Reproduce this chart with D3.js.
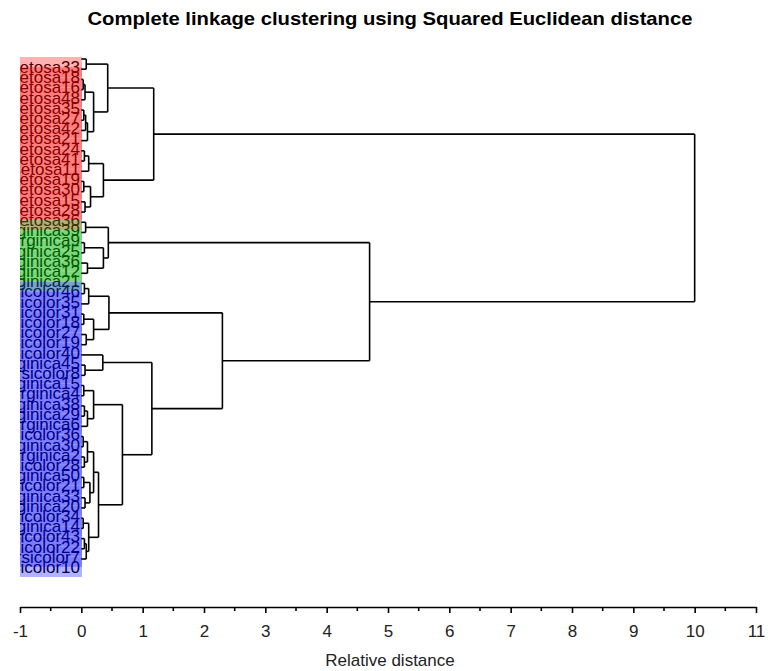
<!DOCTYPE html>
<html>
<head>
<meta charset="utf-8">
<script src="https://cdn.jsdelivr.net/npm/d3@7"></script>
<style>
  body { margin: 0; background: #fff; }
  svg { display: block; }
</style>
</head>
<body>
<svg id="chart" width="768" height="671"></svg>
<script>
// Leaves, top to bottom, as they sit in the dendrogram.
const leafNames = [
  'setosa33', 'setosa18', 'setosa16', 'setosa48', 'setosa35', 'setosa27', 'setosa42', 'setosa21',
  'setosa24', 'setosa41', 'setosa11', 'setosa19', 'setosa30', 'setosa15', 'setosa28', 'setosa36',
  'virginica39', 'virginica9', 'virginica25', 'virginica36', 'virginica12', 'virginica21',
  'versicolor46', 'versicolor35', 'versicolor31', 'versicolor18', 'versicolor27', 'versicolor19',
  'versicolor40', 'virginica45', 'versicolor8', 'virginica15', 'virginica4', 'virginica38',
  'virginica29', 'virginica6', 'versicolor36', 'virginica30', 'virginica2', 'versicolor28',
  'virginica50', 'versicolor21', 'virginica33', 'virginica20', 'versicolor34', 'virginica14',
  'versicolor43', 'versicolor22', 'versicolor7', 'versicolor10'
];

// Cluster each leaf was put in (colour of its label box).
const leafCluster = [
  0, 0, 0, 0, 0, 0, 0, 0, 0, 0, 0, 0, 0, 0, 0, 0,
  1, 1, 1, 1, 1, 1,
  2, 2, 2, 2, 2, 2, 2, 2, 2, 2, 2, 2, 2, 2, 2, 2, 2, 2, 2, 2, 2, 2, 2, 2, 2, 2, 2, 2
];
const clusterColors = ['#ff0000', '#00b000', '#0000ff'];

// Linkage: merge k joins mergeLeft[k] and mergeRight[k] at mergeHeight[k].
// Numbers are leaf indices, 'mN' is the result of merge N.
const mergeLeft = [
  0, 2, 'm1', 5, 'm3', 'm4', 'm2', 'm0', 9, 'm8',
  12, 14, 'm10', 'm9', 'm7', 16, 18, 20, 'm16', 'm15',
  22, 'm20', 25, 27, 'm22', 'm21', 30, 29, 32, 34,
  'm29', 'm28', 37, 39, 'm32', 41, 43, 'm35', 'm34', 45,
  47, 'm40', 'm39', 'm38', 'm31', 'm27', 'm25', 'm19', 'm14'
];
const mergeRight = [
  1, 3, 4, 6, 7, 8, 'm5', 'm6', 10, 11,
  13, 15, 'm11', 'm12', 'm13', 17, 19, 21, 'm17', 'm18',
  23, 24, 26, 28, 'm23', 'm24', 31, 'm26', 33, 35,
  36, 'm30', 38, 40, 'm33', 42, 44, 'm36', 'm37', 46,
  48, 49, 'm41', 'm42', 'm43', 'm44', 'm45', 'm46', 'm47'
];
const mergeHeight = [
  0.08, 0.03, 0.06, 0.04, 0.07, 0.10, 0.20, 0.43, 0.05, 0.12,
  0.04, 0.06, 0.15, 0.36, 1.18, 0.07, 0.05, 0.10, 0.36, 0.44,
  0.05, 0.12, 0.04, 0.08, 0.20, 0.45, 0.06, 0.35, 0.04, 0.05,
  0.10, 0.20, 0.03, 0.05, 0.10, 0.04, 0.06, 0.14, 0.20, 0.03,
  0.05, 0.08, 0.12, 0.28, 0.67, 1.15, 2.30, 4.70, 10.0
];

const xTicks = d3.range(-1, 12);
const xMinorTicks = d3.range(-0.5, 11, 1);

const svg = d3.select('#chart');

const x = d3.scaleLinear().domain([-1, 11]).range([20, 756]);
const y = d3.scalePoint().domain(d3.range(leafNames.length)).range([59, 559]);

// Resolve every node to a position (height, vertical centre).
const nodes = {};
leafNames.forEach((name, i) => { nodes[i] = { h: 0, y: y(i) }; });
mergeHeight.forEach((h, k) => {
  const a = nodes[mergeLeft[k]], b = nodes[mergeRight[k]];
  nodes['m' + k] = { h: h, y: (a.y + b.y) / 2, a: a, b: b };
});

// Title
svg.append('text')
  .attr('x', 390)
  .attr('y', 25)
  .attr('text-anchor', 'middle')
  .attr('textLength', 605)
  .attr('lengthAdjust', 'spacingAndGlyphs')
  .style('font-family', '"Liberation Sans Narrow", "Liberation Sans", Arial, sans-serif')
  .style('font-weight', 'bold')
  .style('font-size', '19px')
  .text('Complete linkage clustering using Squared Euclidean distance');

// Leaf labels, clipped to the label box
svg.append('clipPath').attr('id', 'labelClip')
  .append('rect')
  .attr('x', 20).attr('y', 40).attr('width', 62).attr('height', 560);

const labels = svg.append('g').attr('clip-path', 'url(#labelClip)');

labels.selectAll('text')
  .data(leafNames)
  .enter()
  .append('text')
  .attr('x', 80)
  .attr('y', (d, i) => y(i) + 8)
  .attr('dy', '0.35em')
  .attr('text-anchor', 'end')
  .style('font-family', '"Liberation Sans", Arial, sans-serif')
  .style('font-size', '17px')
  .attr('fill', '#000')
  .text(d => d);

// Translucent cluster boxes laid over the labels
labels.selectAll('rect.box')
  .data(leafNames)
  .enter()
  .append('rect')
  .attr('class', 'box')
  .attr('x', 20)
  .attr('y', (d, i) => y(i) + 8 - 10)
  .attr('width', 62)
  .attr('height', 20)
  .attr('fill', (d, i) => clusterColors[leafCluster[i]])
  .attr('fill-opacity', 0.3);

// Dendrogram elbows
const links = svg.append('g')
  .attr('fill', 'none')
  .attr('stroke', '#000')
  .attr('stroke-width', 1.6);

mergeHeight.forEach((h, k) => {
  const n = nodes['m' + k];
  const xn = x(n.h);
  [n.a, n.b].forEach(c => {
    links.append('line')
      .attr('x1', x(c.h)).attr('x2', xn)
      .attr('y1', c.y).attr('y2', c.y);
  });
  links.append('line')
    .attr('x1', xn).attr('x2', xn)
    .attr('y1', n.a.y).attr('y2', n.b.y);
});

// Axis
const axisY = 607;
const axis = svg.append('g')
  .attr('transform', `translate(0,${axisY})`)
  .call(d3.axisBottom(x).tickValues(xTicks).tickFormat(d => String(d)).tickSize(6).tickSizeOuter(0).tickPadding(12));

axis.select('.domain').attr('stroke-width', 1.6);
axis.selectAll('.tick line').attr('stroke-width', 1.6);
axis.selectAll('.tick text')
  .style('font-family', '"Liberation Sans", Arial, sans-serif')
  .style('font-size', '17px')
  .attr('fill', '#222');

axis.selectAll('line.minor')
  .data(xMinorTicks)
  .enter()
  .append('line')
  .attr('class', 'minor')
  .attr('x1', d => x(d)).attr('x2', d => x(d))
  .attr('y1', 0).attr('y2', 4)
  .attr('stroke', '#000')
  .attr('stroke-width', 1.6);

svg.append('text')
  .attr('x', 390)
  .attr('y', 660)
  .attr('dy', '0.35em')
  .attr('text-anchor', 'middle')
  .style('font-family', '"Liberation Sans", Arial, sans-serif')
  .style('font-size', '17px')
  .attr('fill', '#222')
  .text('Relative distance');
</script>
</body>
</html>
